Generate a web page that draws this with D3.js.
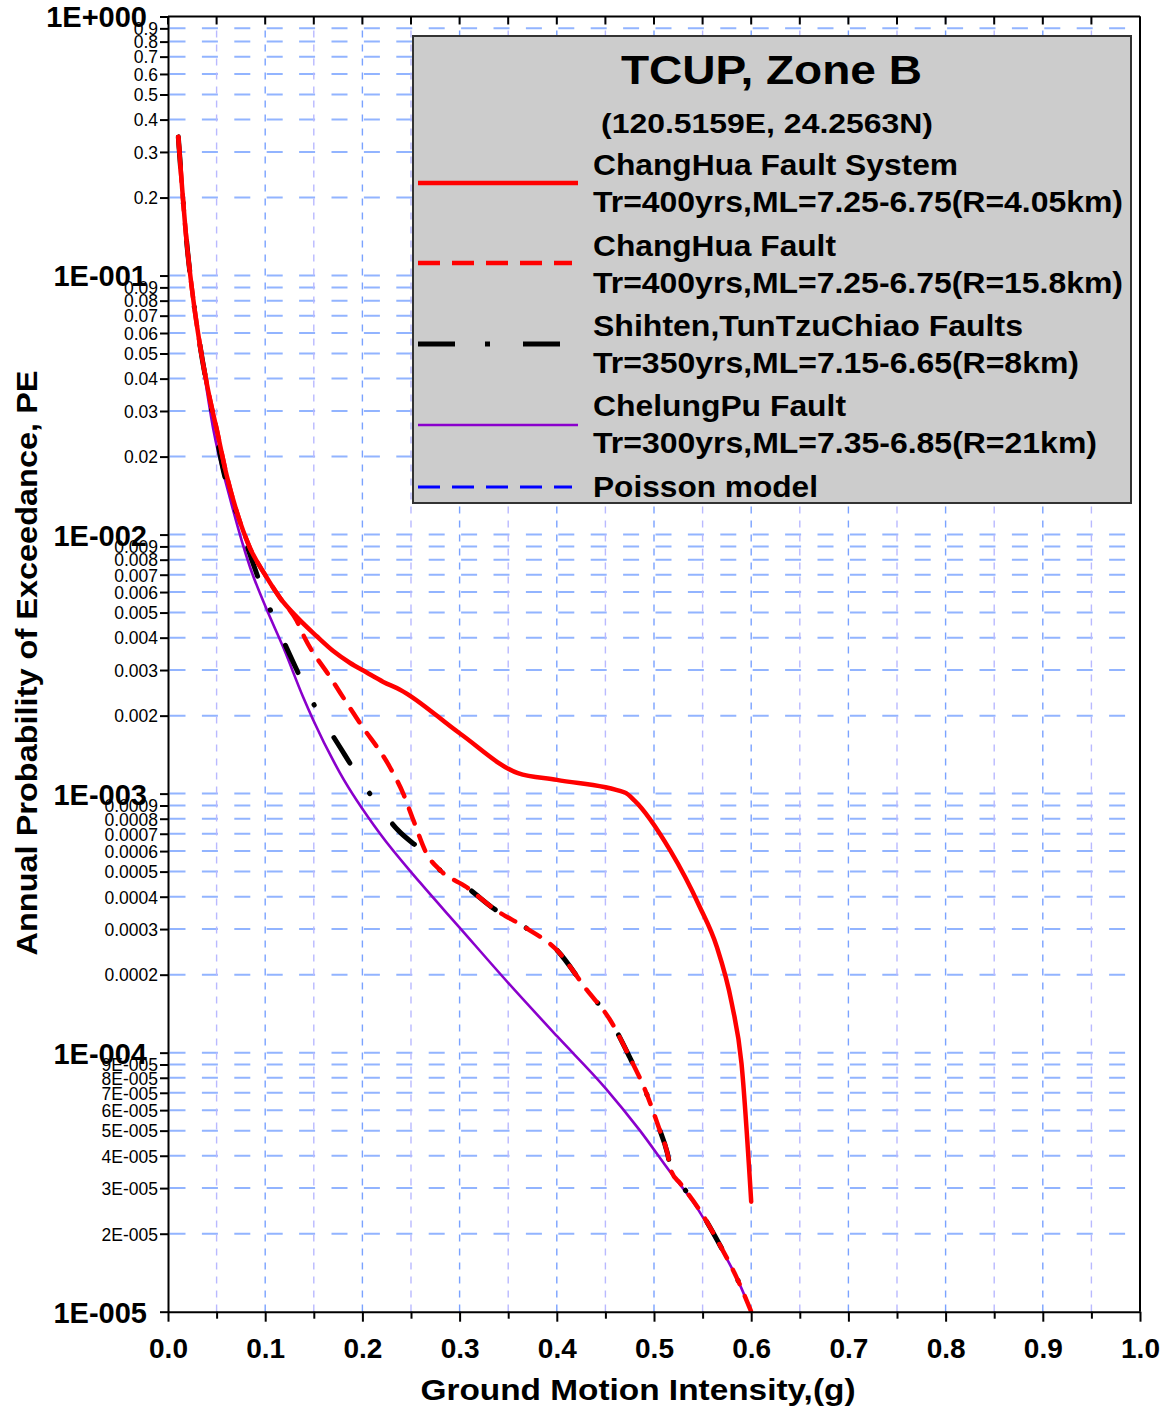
<!DOCTYPE html>
<html>
<head>
<meta charset="utf-8">
<script src="https://cdn.jsdelivr.net/npm/d3@7"></script>
<style>
  body { margin: 0; background: #fff; }
  svg { display: block; font-family: "Liberation Sans", Arial, sans-serif; }
</style>
</head>
<body>
<div id="chart"></div>
<script>
// ---- data ----
// ChangHua Fault System
const systemG  = [0.0106, 0.0192, 0.026, 0.0329, 0.0415, 0.0501, 0.0604, 0.0707, 0.0844, 0.0998, 0.1152, 0.1324,
                  0.153, 0.170, 0.187, 0.204, 0.2215, 0.2387, 0.30, 0.36, 0.40, 0.47, 0.48, 0.5165, 0.547, 0.5645,
                  0.58, 0.59, 0.60];
const systemPE = [0.343, 0.1346, 0.0809, 0.0538, 0.0357, 0.0255, 0.0169, 0.01226, 0.00887, 0.0070, 0.0057, 0.00481,
                  0.00405, 0.00355, 0.0032, 0.00294, 0.0027, 0.00252, 0.00171, 0.00120, 0.00113, 0.00101, 0.00094, 0.000605, 0.000366, 0.000257,
                  0.000155, 0.000091, 0.0000266];

// ChangHua Fault
const faultG  = [0.0106, 0.0192, 0.026, 0.0329, 0.0415, 0.0501, 0.0604, 0.0707, 0.0844, 0.0998, 0.1152, 0.1324, 0.141,
                 0.1667, 0.1975, 0.228, 0.242, 0.2524, 0.266, 0.28, 0.307, 0.335, 0.369, 0.40, 0.4307, 0.4547, 0.475,
                 0.4907, 0.5045, 0.5137, 0.518, 0.527, 0.549, 0.566, 0.586, 0.60];
const faultPE = [0.343, 0.1346, 0.0809, 0.0538, 0.0357, 0.0255, 0.0169, 0.01226, 0.00887, 0.0070, 0.0057, 0.00465, 0.00397,
                 0.00282, 0.00187, 0.00127, 0.00100, 0.00079, 0.000587, 0.000506, 0.000436, 0.00036, 0.000302, 0.000249, 0.000175, 0.000134, 0.000096,
                 0.000072, 0.000052, 0.000041, 0.0000347, 0.0000313, 0.000024, 0.0000186, 0.0000133, 0.0000100];

// Shihten, TunTzuChiao Faults
const shihtenG  = [0.0106, 0.0192, 0.026, 0.0329, 0.045, 0.0587, 0.07, 0.086, 0.105, 0.1255, 0.1495, 0.177, 0.206, 0.237,
                   0.266, 0.28, 0.307, 0.335, 0.369, 0.40, 0.4307, 0.4547, 0.475, 0.4907, 0.5045, 0.5137, 0.518, 0.527,
                   0.549, 0.566, 0.586, 0.60];
const shihtenPE = [0.343, 0.1346, 0.0809, 0.0538, 0.0302, 0.0166, 0.01226, 0.00803, 0.00515, 0.00342, 0.00223, 0.00151, 0.00102, 0.00072,
                   0.00058, 0.000506, 0.000436, 0.00036, 0.000302, 0.000249, 0.000175, 0.000134, 0.000096, 0.000072, 0.000052, 0.000041, 0.0000347, 0.0000313,
                   0.000024, 0.0000186, 0.0000133, 0.0000100];

// ChelungPu Fault
const chelungG  = [0.0106, 0.0192, 0.026, 0.0329, 0.0466, 0.0638, 0.0844, 0.1015, 0.1186, 0.139, 0.1495, 0.177, 0.218,
                   0.259, 0.30, 0.35, 0.40, 0.45, 0.4856, 0.5165, 0.540, 0.568, 0.586, 0.60];
const chelungPE = [0.343, 0.1346, 0.0809, 0.0538, 0.0255, 0.0138, 0.00748, 0.00515, 0.00367, 0.00236, 0.00192, 0.00120, 0.000701,
                   0.000455, 0.000304, 0.000186, 0.000116, 0.000073, 0.000050, 0.0000347, 0.0000266, 0.0000178, 0.0000133, 0.0000100];

// legend text
const legendTitle = "TCUP, Zone B";
const legendSubtitle = "(120.5159E, 24.2563N)";
const legendNames = ["ChangHua Fault System", "ChangHua Fault", "Shihten,TunTzuChiao Faults", "ChelungPu Fault", "Poisson model"];
const legendDetails = ["Tr=400yrs,ML=7.25-6.75(R=4.05km)", "Tr=400yrs,ML=7.25-6.75(R=15.8km)",
                       "Tr=350yrs,ML=7.15-6.65(R=8km)", "Tr=300yrs,ML=7.35-6.85(R=21km)", ""];

// axis ticks
const xTicks = d3.range(0, 21).map(i => i * 0.05);
const xTickLabels = ["0.0", "0.1", "0.2", "0.3", "0.4", "0.5", "0.6", "0.7", "0.8", "0.9", "1.0"];
const yDecades = [1, 1e-1, 1e-2, 1e-3, 1e-4, 1e-5];
const yDecadeLabels = ["1E+000", "1E-001", "1E-002", "1E-003", "1E-004", "1E-005"];
const yMinorLabels = [
  ["0.9", "0.8", "0.7", "0.6", "0.5", "0.4", "0.3", "0.2"],
  ["0.09", "0.08", "0.07", "0.06", "0.05", "0.04", "0.03", "0.02"],
  ["0.009", "0.008", "0.007", "0.006", "0.005", "0.004", "0.003", "0.002"],
  ["0.0009", "0.0008", "0.0007", "0.0006", "0.0005", "0.0004", "0.0003", "0.0002"],
  ["9E-005", "8E-005", "7E-005", "6E-005", "5E-005", "4E-005", "3E-005", "2E-005"]
];
const xTitle = "Ground Motion Intensity,(g)";
const yTitle = "Annual Probability of Exceedance, PE";

// ---- chart ----
const W = 1169, H = 1409;
const plotLeft = 168, plotRight = 1140, plotTop = 16.5, plotBottom = 1311.7;

const svg = d3.select("#chart").append("svg")
    .attr("width", W)
    .attr("height", H);

const x = d3.scaleLinear().domain([0, 1]).range([plotLeft, plotRight]);
const y = d3.scaleLog().domain([1e-5, 1]).range([plotBottom, plotTop]);

// minor tick values (k * decade), label lookup by value
let yMinor = [];
let yLabelOf = new Map();
yDecades.forEach((d, i) => yLabelOf.set(d, {text: yDecadeLabels[i], major: true}));
for (let i = 0; i < 5; i++) {
  for (let k = 9; k >= 2; k--) {
    let v = k * yDecades[i + 1];
    yMinor.push(v);
    yLabelOf.set(v, {text: yMinorLabels[i][9 - k], major: false});
  }
}
const yAll = yDecades.concat(yMinor);

// horizontal grid
svg.append("g").attr("class", "hgrid")
  .selectAll("line")
  .data(yAll.filter(v => v < 1 && v > 1e-5))
  .enter().append("line")
    .attr("x1", plotLeft + 1.5).attr("x2", plotRight)
    .attr("y1", d => y(d)).attr("y2", d => y(d))
    .attr("stroke", "#92b4ff")
    .attr("stroke-width", 2)
    .attr("stroke-dasharray", "16,16.4");

// vertical grid
svg.append("g").attr("class", "vgrid")
  .selectAll("line")
  .data(xTicks.filter(v => v > 0.001 && v < 0.999))
  .enter().append("line")
    .attr("x1", d => x(d)).attr("x2", d => x(d))
    .attr("y1", plotTop).attr("y2", plotBottom)
    .attr("stroke", (d, i) => i % 2 === 0 ? "#b9b9ff" : "#7aa2ff")
    .attr("stroke-width", 1.4)
    .attr("stroke-dasharray", "7,7");

// curves
const line = d3.line()
    .x(d => x(d[0]))
    .y(d => y(d[1]))
    .curve(d3.curveMonotoneX);

const zip = (a, b) => a.map((v, i) => [v, b[i]]);

svg.append("path")
    .attr("d", line(zip(chelungG, chelungPE)))
    .attr("fill", "none")
    .attr("stroke", "#8a00cc")
    .attr("stroke-width", 2.6);

svg.append("path")
    .attr("d", line(zip(shihtenG, shihtenPE)))
    .attr("fill", "none")
    .attr("stroke", "#000")
    .attr("stroke-width", 5)
    .attr("stroke-linecap", "round")
    .attr("stroke-dasharray", "30,36,0.5,38");

svg.append("path")
    .attr("d", line(zip(faultG, faultPE)))
    .attr("fill", "none")
    .attr("stroke", "#ff0000")
    .attr("stroke-width", 4.5)
    .attr("stroke-linecap", "round")
    .attr("stroke-dasharray", "16,13");

svg.append("path")
    .attr("d", line(zip(systemG, systemPE)))
    .attr("fill", "none")
    .attr("stroke", "#ff0000")
    .attr("stroke-width", 4.5)
    .attr("stroke-linejoin", "round")
    .attr("stroke-linecap", "round");

// frame
svg.append("line").attr("x1", plotLeft).attr("x2", plotRight).attr("y1", plotTop).attr("y2", plotTop)
    .attr("stroke", "#000").attr("stroke-width", 2);
svg.append("line").attr("x1", plotRight).attr("x2", plotRight).attr("y1", plotTop).attr("y2", plotBottom)
    .attr("stroke", "#000").attr("stroke-width", 2);

// top ticks (inward)
svg.append("g").selectAll("line")
  .data(xTicks)
  .enter().append("line")
    .attr("x1", d => x(d)).attr("x2", d => x(d))
    .attr("y1", plotTop).attr("y2", plotTop + 8)
    .attr("stroke", "#000").attr("stroke-width", 2);

// x axis
const xAxis = d3.axisBottom(x)
    .tickValues(xTicks)
    .tickSizeOuter(0)
    .tickFormat((d, i) => i % 2 === 0 ? xTickLabels[i / 2] : "");

const xg = svg.append("g")
    .attr("transform", "translate(0," + plotBottom + ")")
    .call(xAxis);
xg.select(".domain").attr("stroke", "#000").attr("stroke-width", 2);
xg.selectAll(".tick line")
    .attr("stroke-width", 2)
    .attr("y2", (d, i) => i % 2 === 0 ? 10 : 7);
xg.selectAll(".tick text")
    .attr("y", 46).attr("dy", 0)
    .attr("fill", "#000")
    .style("font-size", "28px")
    .style("font-weight", "bold")
    .style("font-family", "'Liberation Sans', Arial, sans-serif");

// y axis
const yAxis = d3.axisLeft(y)
    .tickValues(yAll)
    .tickSize(8)
    .tickSizeOuter(0)
    .tickFormat(d => yLabelOf.get(d).text);

const yg = svg.append("g")
    .attr("transform", "translate(" + plotLeft + ",0)")
    .call(yAxis);
yg.select(".domain").attr("stroke", "#000").attr("stroke-width", 2);
yg.selectAll(".tick line").attr("stroke-width", 2);
yg.selectAll(".tick text")
    .attr("fill", "#000")
    .attr("x", d => yLabelOf.get(d).major ? -21 : -10)
    .attr("dy", "0.36em")
    .style("font-family", "'Liberation Sans', Arial, sans-serif")
    .style("font-size", d => yLabelOf.get(d).major ? "29px" : "17.5px")
    .style("font-weight", d => yLabelOf.get(d).major ? "bold" : "normal");
// keep decade labels above the minor ones
yg.selectAll(".tick").filter(d => yLabelOf.get(d).major).raise();

// axis titles
svg.append("text")
    .attr("x", 638).attr("y", 1400)
    .attr("text-anchor", "middle")
    .attr("textLength", 435).attr("lengthAdjust", "spacingAndGlyphs")
    .style("font-size", "30px").style("font-weight", "bold")
    .text(xTitle);

svg.append("text")
    .attr("transform", "translate(37,663) rotate(-90)")
    .attr("text-anchor", "middle")
    .attr("textLength", 585).attr("lengthAdjust", "spacingAndGlyphs")
    .style("font-size", "29px").style("font-weight", "bold")
    .text(yTitle);

// ---- legend ----
const lg = svg.append("g").attr("class", "legend");
lg.append("rect")
    .attr("x", 413).attr("y", 36)
    .attr("width", 718).attr("height", 467)
    .attr("fill", "#cccccc")
    .attr("stroke", "#333")
    .attr("stroke-width", 2);

lg.append("text")
    .attr("x", 621).attr("y", 84)
    .attr("textLength", 301).attr("lengthAdjust", "spacingAndGlyphs")
    .style("font-size", "41px").style("font-weight", "bold")
    .text(legendTitle);

lg.append("text")
    .attr("x", 601).attr("y", 133)
    .attr("textLength", 332).attr("lengthAdjust", "spacingAndGlyphs")
    .style("font-size", "28px").style("font-weight", "bold")
    .text(legendSubtitle);

const legendStyles = [
  {color: "#ff0000", width: 4.5, dash: null, x2: 578},
  {color: "#ff0000", width: 4.5, dash: "22,12", x2: 572},
  {color: "#000", width: 5, dash: "37,30,5,33", x2: 560},
  {color: "#8a00cc", width: 2.6, dash: null, x2: 578},
  {color: "#0000ff", width: 3, dash: "22,12", x2: 572}
];
const legendLineY = [183, 263, 344, 425, 487];
const nameY = [175, 256, 336, 416, 497];
const nameW = [365, 243, 430, 253, 225];
const detailW = [530, 530, 486, 504, 0];

legendNames.forEach((name, i) => {
  const s = legendStyles[i];
  lg.append("line")
      .attr("x1", 418).attr("x2", s.x2)
      .attr("y1", legendLineY[i]).attr("y2", legendLineY[i])
      .attr("stroke", s.color)
      .attr("stroke-width", s.width)
      .attr("stroke-dasharray", s.dash);
  lg.append("text")
      .attr("x", 593).attr("y", nameY[i])
      .attr("textLength", nameW[i]).attr("lengthAdjust", "spacingAndGlyphs")
      .style("font-size", "29px").style("font-weight", "bold")
      .text(name);
  if (legendDetails[i]) {
    lg.append("text")
        .attr("x", 593).attr("y", nameY[i] + 37)
        .attr("textLength", detailW[i]).attr("lengthAdjust", "spacingAndGlyphs")
        .style("font-size", "29px").style("font-weight", "bold")
        .text(legendDetails[i]);
  }
});
</script>
</body>
</html>
